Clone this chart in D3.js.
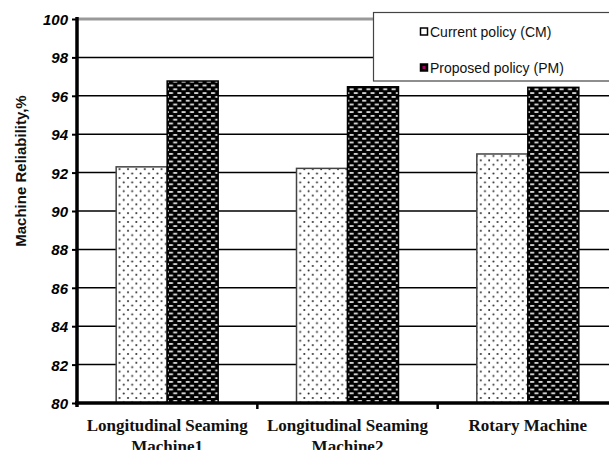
<!DOCTYPE html>
<html><head><meta charset="utf-8">
<script src="https://cdn.jsdelivr.net/npm/d3@7"></script>
<style>body{margin:0;background:#fff;} svg{display:block;}</style>
</head><body>
<script>
const categories = [["Longitudinal Seaming","Machine1"],["Longitudinal Seaming","Machine2"],["Rotary Machine"]];
const seriesNames = ["Current policy (CM)","Proposed policy (PM)"];
const cmValues = [92.3, 92.22, 92.97];
const pmValues = [96.77, 96.47, 96.44];
const yTicks = [80,82,84,86,88,90,92,94,96,98,100];

const W=609,H=450;
const svg=d3.select("body").append("svg").attr("width",W).attr("height",H);
const defs=svg.append("defs");
const pd=defs.append("pattern").attr("id","dots").attr("patternUnits","userSpaceOnUse").attr("width",8.4).attr("height",8.8);
pd.append("rect").attr("width",8.4).attr("height",8.8).attr("fill","#fff");
pd.append("circle").attr("cx",2).attr("cy",2).attr("r",1).attr("fill","#222");
pd.append("circle").attr("cx",6.2).attr("cy",6.4).attr("r",1).attr("fill","#222");
const pb=defs.append("pattern").attr("id","brick").attr("patternUnits","userSpaceOnUse").attr("width",8.4).attr("height",7.6);
pb.append("rect").attr("width",8.4).attr("height",7.6).attr("fill","#000");
pb.append("rect").attr("x",1).attr("y",1).attr("width",4).attr("height",1.8).attr("fill","#ddd");
pb.append("rect").attr("x",5.2).attr("y",4.8).attr("width",4).attr("height",1.8).attr("fill","#ddd");
pb.append("rect").attr("x",-3.2).attr("y",4.8).attr("width",4).attr("height",1.8).attr("fill","#ddd");

const x0=77, x1=618, yTop=19, yBot=403;
const x=d3.scaleBand().domain(d3.range(categories.length)).range([x0,x1]).padding(0);
const y=d3.scaleLinear().domain([80,100]).range([yBot,yTop]);
const barW=51;

// gridlines
svg.append("g").selectAll("line").data(yTicks.filter(t=>t>80&&t<100)).join("line")
  .attr("x1",x0).attr("x2",W).attr("y1",d=>y(d)).attr("y2",d=>y(d))
  .attr("stroke","#000").attr("stroke-width",1.5);
svg.append("line").attr("x1",x0).attr("x2",W).attr("y1",y(100)).attr("y2",y(100))
  .attr("stroke","#999").attr("stroke-width",3);

// bars
const g=svg.append("g");
categories.forEach((c,i)=>{
  const cx=x(i)+x.bandwidth()/2;
  g.append("rect").attr("x",cx-barW).attr("y",y(cmValues[i])).attr("width",barW).attr("height",y(80)-y(cmValues[i]))
    .attr("fill","url(#dots)").attr("stroke","#444").attr("stroke-width",1.5);
  g.append("rect").attr("x",cx).attr("y",y(pmValues[i])).attr("width",barW).attr("height",y(80)-y(pmValues[i]))
    .attr("fill","url(#brick)").attr("stroke","#000").attr("stroke-width",1.5);
});

// y axis
const ya=svg.append("g").attr("transform",`translate(${x0},0)`)
  .call(d3.axisLeft(y).tickValues(yTicks).tickSize(5).tickFormat(d3.format("d")));
ya.select(".domain").remove();
ya.selectAll(".tick line").attr("stroke","#000").attr("stroke-width",2);
ya.selectAll(".tick text").attr("x",-9).attr("dy","0.36em")
  .style("font-family","Liberation Sans, Arial, sans-serif").style("font-size","15px")
  .style("font-weight","bold").style("font-style","italic").attr("fill","#000");
svg.append("line").attr("x1",x0).attr("x2",x0).attr("y1",yTop-2).attr("y2",yBot+4).attr("stroke","#000").attr("stroke-width",3.5);

// x axis
svg.append("line").attr("x1",x0-2).attr("x2",W).attr("y1",yBot).attr("y2",yBot).attr("stroke","#000").attr("stroke-width",3.5);
svg.append("g").selectAll("line").data(d3.range(1,categories.length)).join("line")
  .attr("x1",d=>x(d)).attr("x2",d=>x(d)).attr("y1",yBot).attr("y2",yBot+6).attr("stroke","#000").attr("stroke-width",2.5);
const xl=svg.append("g");
categories.forEach((c,i)=>{
  const t=xl.append("text").attr("x",x(i)+x.bandwidth()/2).attr("y",431).attr("text-anchor","middle")
    .style("font-family","Liberation Serif, Times New Roman, serif").style("font-size","17px").style("font-weight","bold").attr("fill","#111");
  c.forEach((line,j)=>t.append("tspan").attr("x",x(i)+x.bandwidth()/2).attr("dy",j===0?0:21).text(line));
});

// y title
svg.append("text").attr("transform","translate(26,171) rotate(-90)").attr("text-anchor","middle")
  .style("font-family","Liberation Sans, Arial, sans-serif").style("font-size","15px").style("font-weight","bold")
  .attr("fill","#111").text("Machine Reliability,%");

// legend
const lg=svg.append("g");
lg.append("rect").attr("x",373.5).attr("y",12.5).attr("width",250).attr("height",68.5)
  .attr("fill","#fff").attr("stroke","#444").attr("stroke-width",1.2);
const legY=[32,68];
seriesNames.forEach((n,i)=>{
  lg.append("rect").attr("x",420.5).attr("y",legY[i]-4).attr("width",7).attr("height",7)
    .attr("fill",i===0?"#fff":"#000").attr("stroke","#000").attr("stroke-width",1.5);
  if(i===1) lg.append("rect").attr("x",422.5).attr("y",legY[i]-2).attr("width",3).attr("height",3).attr("fill","#a06");
  lg.append("text").attr("x",430).attr("y",legY[i]+5)
    .style("font-family","Liberation Sans, Arial, sans-serif").style("font-size","14px").attr("fill","#111").text(n);
});
</script>
</body></html>
